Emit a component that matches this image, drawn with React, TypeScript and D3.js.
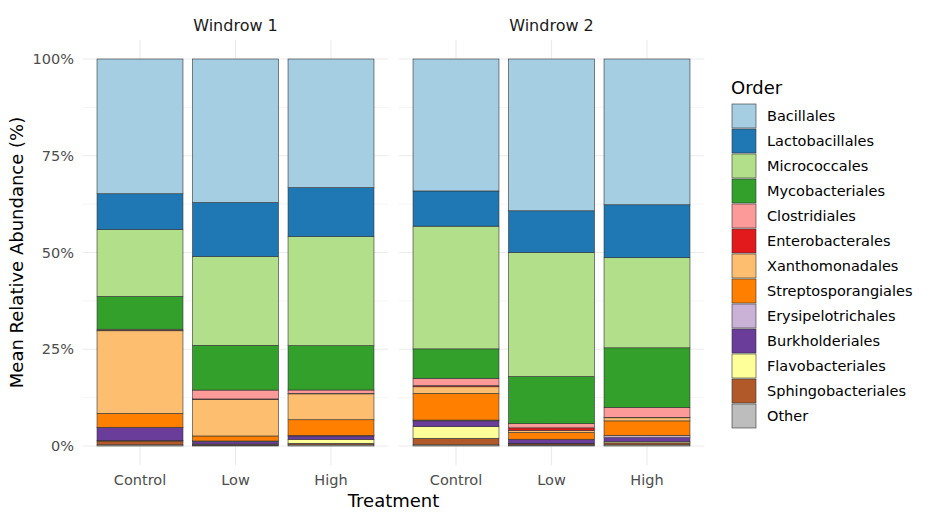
import * as d3 from "d3";

// samples: Windrow 1 (Control, Low, High), Windrow 2 (Control, Low, High)
const windrows = ["Windrow 1", "Windrow 2"];
const treatments = ["Control", "Low", "High"];

const orders = [
  "Bacillales",
  "Lactobacillales",
  "Micrococcales",
  "Mycobacteriales",
  "Clostridiales",
  "Enterobacterales",
  "Xanthomonadales",
  "Streptosporangiales",
  "Erysipelotrichales",
  "Burkholderiales",
  "Flavobacteriales",
  "Sphingobacteriales",
  "Other",
];

const colors = [
  "#A6CEE3", "#1F78B4", "#B2DF8A", "#33A02C", "#FB9A99", "#E31A1C", "#FDBF6F",
  "#FF7F00", "#CAB2D6", "#6A3D9A", "#FFFF99", "#B15928", "#BDBDBD",
];

// mean relative abundance (%) per sample, same sample order as above
const bacillales = [34.9, 37.2, 33.3, 34.1, 39.3, 37.7];
const lactobacillales = [9.3, 14.0, 12.7, 9.1, 10.8, 13.7];
const micrococcales = [17.3, 23.0, 28.2, 31.7, 32.1, 23.3];
const mycobacteriales = [8.5, 11.6, 11.5, 7.6, 12.2, 15.4];
const clostridiales = [0.3, 2.3, 0.9, 1.9, 1.1, 2.6];
const enterobacterales = [0.1, 0.1, 0.1, 0.3, 0.7, 0.1];
const xanthomonadales = [21.4, 9.5, 6.7, 1.7, 0.5, 0.8];
const streptosporangiales = [3.6, 1.3, 4.1, 6.9, 1.75, 3.75];
const erysipelotrichales = [0.1, 0.1, 0.1, 0.2, 0.1, 0.6];
const burkholderiales = [3.35, 0.7, 0.9, 1.5, 1.0, 1.05];
const flavobacteriales = [0.1, 0.1, 1.0, 3.0, 0.1, 0.3];
const sphingobacteriales = [1.0, 0.2, 0.4, 1.7, 0.3, 0.5];
const other = [0.3, 0.2, 0.3, 0.3, 0.25, 0.3];

const series = [
  bacillales, lactobacillales, micrococcales, mycobacteriales, clostridiales,
  enterobacterales, xanthomonadales, streptosporangiales, erysipelotrichales,
  burkholderiales, flavobacteriales, sphingobacteriales, other,
];

const yTicks = [0, 0.25, 0.5, 0.75, 1];
const yMinor = [0.125, 0.375, 0.625, 0.875];

const W = 936;
const H = 520;
const FONT = "DejaVu Sans, Verdana, sans-serif";

export default function App() {
  const panelTop = 39.65;
  const panelBottom = 465.35;
  const panels = [
    [82.7, 388.3],
    [398.7, 704.3],
  ];

  const y = d3.scaleLinear().domain([0, 1]).range([446, 59]);
  const color = d3.scaleOrdinal<string, string>().domain(orders).range(colors);

  // rows = samples, keyed by order; bottom of stack is "Other" (last level)
  const rows = windrows.flatMap((w, wi) =>
    treatments.map((t, ti) => {
      const r: any = { windrow: w, treatment: t };
      orders.forEach((o, oi) => (r[o] = series[oi][wi * 3 + ti]));
      return r;
    })
  );
  const stack = d3
    .stack<any>()
    .keys([...orders].reverse())
    .offset(d3.stackOffsetExpand);
  const layers = stack(rows);

  return (
    <svg
      width={W}
      height={H}
      style={{ position: "absolute", left: 0, top: 0, background: "#fff" }}
      fontFamily={FONT}
    >
      {windrows.map((w, wi) => {
        const [x0, x1] = panels[wi];
        const x = d3
          .scaleBand()
          .domain(treatments)
          .range([x0, x1])
          .paddingInner(0.1)
          .paddingOuter(0.15);
        return (
          <g key={w}>
            {yMinor.map((t) => (
              <line key={"m" + t} x1={x0} x2={x1} y1={y(t)} y2={y(t)} stroke="#EBEBEB" strokeWidth={0.55} />
            ))}
            {yTicks.map((t) => (
              <line key={"M" + t} x1={x0} x2={x1} y1={y(t)} y2={y(t)} stroke="#EBEBEB" strokeWidth={1.1} />
            ))}
            {treatments.map((t) => {
              const cx = x(t)! + x.bandwidth() / 2;
              return (
                <line key={"v" + t} x1={cx} x2={cx} y1={panelTop} y2={panelBottom} stroke="#EBEBEB" strokeWidth={1.1} />
              );
            })}
            {layers.map((layer) => (
              <g key={layer.key} fill={color(layer.key)}>
                {layer
                  .filter((d) => d.data.windrow === w)
                  .map((d) => (
                    <rect
                      key={d.data.treatment}
                      x={x(d.data.treatment)}
                      width={x.bandwidth()}
                      y={y(d[1])}
                      height={Math.max(0, y(d[0]) - y(d[1]))}
                      stroke="#333333"
                      strokeWidth={0.6}
                    />
                  ))}
              </g>
            ))}
            {treatments.map((t) => (
              <text
                key={"xl" + t}
                x={x(t)! + x.bandwidth() / 2}
                y={485}
                textAnchor="middle"
                fontSize={14.5}
                fill="#4D4D4D"
              >
                {t}
              </text>
            ))}
            <text x={(x0 + x1) / 2} y={31} textAnchor="middle" fontSize={16} fill="#1A1A1A">
              {w}
            </text>
          </g>
        );
      })}

      {yTicks.map((t) => (
        <text key={"yl" + t} x={74} y={y(t) + 5} textAnchor="end" fontSize={14.5} fill="#4D4D4D">
          {d3.format(".0%")(t)}
        </text>
      ))}
      <text
        transform={`translate(23,${(panelTop + panelBottom) / 2}) rotate(-90)`}
        textAnchor="middle"
        fontSize={18}
        fill="#000"
      >
        Mean Relative Abundance (%)
      </text>
      <text x={393.5} y={507} textAnchor="middle" fontSize={18} fill="#000">
        Treatment
      </text>

      <g transform="translate(731,0)">
        <text x={0} y={94} fontSize={18} fill="#000">
          Order
        </text>
        {orders.map((o, i) => (
          <g key={o} transform={`translate(0,${104 + i * 25})`}>
            <rect x={1} y={0} width={24} height={24} fill={color(o)} stroke="#333333" strokeWidth={0.6} />
            <text x={36} y={17} fontSize={14.5} fill="#000">
              {o}
            </text>
          </g>
        ))}
      </g>
    </svg>
  );
}
